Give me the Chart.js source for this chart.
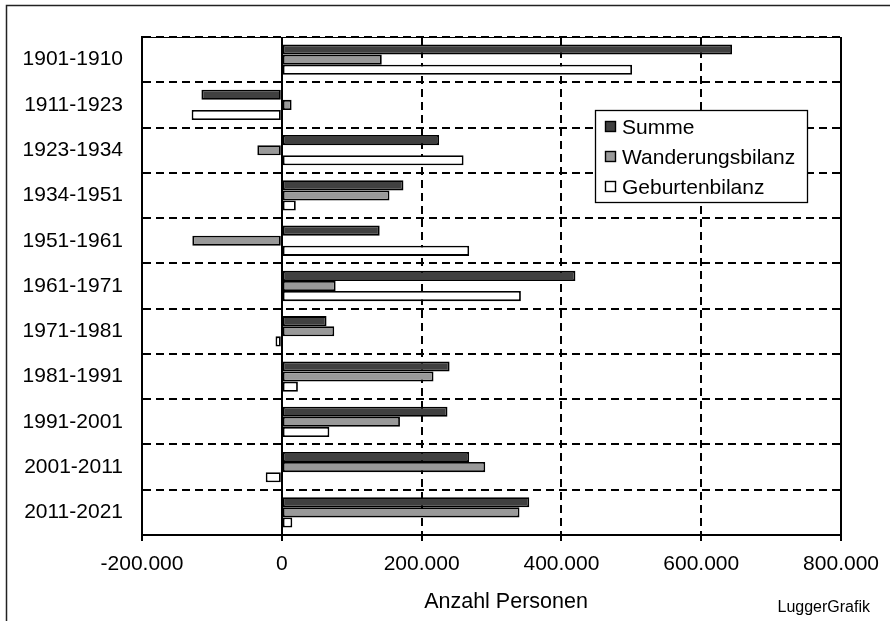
<!DOCTYPE html>
<html>
<head>
<meta charset="utf-8">
<script src="https://cdn.jsdelivr.net/npm/chart.js@4.4.1/dist/chart.umd.min.js"></script>
<style>
  html, body { margin: 0; padding: 0; background: #fff; }
  #wrap { width: 890px; height: 621px; position: relative; }
</style>
</head>
<body>
<div id="wrap"><canvas id="c" width="890" height="621"></canvas></div>
<script>
// Bevölkerungsentwicklung je Zeitraum (Personen)
const periods = ['1901-1910', '1911-1923', '1923-1934', '1934-1951', '1951-1961', '1961-1971',
                 '1971-1981', '1981-1991', '1991-2001', '2001-2011', '2011-2021'];
const summe = [644000, -115000, 225000, 174000, 140000, 420000, 64000, 240000, 237000, 268000, 354000];
const wanderungsbilanz = [143000, 14000, -35000, 154000, -128000, 77000, 75000, 217000, 169000, 291000, 340000];
const geburtenbilanz = [501000, -129000, 260000, 20000, 268000, 342000, -9000, 23000, 68000, -23000, 15000];
const xTickValues = [-200000, 0, 200000, 400000, 600000, 800000];
const seriesNames = ['Summe', 'Wanderungsbilanz', 'Geburtenbilanz'];
const seriesColors = ['#404040', '#999999', '#ffffff'];
const xAxisTitle = 'Anzahl Personen';
const creditText = 'LuggerGrafik';

const FONT = '"Liberation Sans", Arial, sans-serif';

function fmtDe(v) {
  const s = String(Math.abs(v)).replace(/\B(?=(\d{3})+(?!\d))/g, '.');
  return (v < 0 ? '-' : '') + s;
}

// Frame, zero line, legend box, axis title and credit line
const decor = {
  id: 'decor',
  beforeDraw(chart) {
    const ctx = chart.ctx;
    ctx.save();
    ctx.fillStyle = '#fff';
    ctx.fillRect(0, 0, chart.width, chart.height);
    ctx.strokeStyle = '#222';
    ctx.lineWidth = 1.5;
    ctx.strokeRect(6.5, 5.5, 1000, 1000);
    ctx.restore();
  },
  afterDatasetsDraw(chart) {
    const ctx = chart.ctx;
    const a = chart.chartArea;
    const x = chart.scales.x;
    ctx.save();
    ctx.strokeStyle = '#000';
    ctx.setLineDash([]);
    // top and right edges of the plot
    ctx.lineWidth = 1.2;
    ctx.beginPath();
    ctx.moveTo(a.left, a.top + 0.5);
    ctx.lineTo(a.right, a.top + 0.5);
    ctx.stroke();
    ctx.lineWidth = 2;
    const xr = Math.round(x.getPixelForValue(800000));
    ctx.beginPath();
    ctx.moveTo(xr, a.top);
    ctx.lineTo(xr, a.bottom);
    ctx.stroke();
    // zero line
    const x0 = Math.round(x.getPixelForValue(0));
    ctx.lineWidth = 2;
    ctx.beginPath();
    ctx.moveTo(x0, a.top);
    ctx.lineTo(x0, a.bottom);
    ctx.stroke();
    ctx.restore();
  },
  afterDraw(chart) {
    const ctx = chart.ctx;
    ctx.save();
    // legend
    const bx = 595.5, by = 110.5, bw = 212, bh = 92;
    ctx.fillStyle = '#fff';
    ctx.fillRect(bx, by, bw, bh);
    ctx.strokeStyle = '#000';
    ctx.lineWidth = 1.3;
    ctx.strokeRect(bx, by, bw, bh);
    ctx.font = '21px ' + FONT;
    ctx.textBaseline = 'middle';
    ctx.textAlign = 'left';
    chart.data.datasets.forEach((ds, i) => {
      const cy = 127 + i * 30;
      ctx.fillStyle = ds.backgroundColor;
      ctx.fillRect(605.5, cy - 5.5, 10, 10);
      ctx.lineWidth = 1.4;
      ctx.strokeStyle = '#000';
      ctx.strokeRect(605.5, cy - 5.5, 10, 10);
      ctx.fillStyle = '#000';
      ctx.fillText(ds.label, 622, cy + 1);
    });
    // x axis title
    ctx.font = '21.5px ' + FONT;
    ctx.textAlign = 'center';
    ctx.textBaseline = 'alphabetic';
    ctx.fillStyle = '#000';
    ctx.fillText(xAxisTitle, 506, 608);
    // credit
    ctx.font = '16px ' + FONT;
    ctx.textAlign = 'right';
    ctx.fillText(creditText, 870, 612);
    ctx.restore();
  }
};

const datasets = [summe, wanderungsbilanz, geburtenbilanz].map((vals, i) => ({
  label: seriesNames[i],
  data: vals,
  backgroundColor: seriesColors[i],
  borderColor: '#000',
  borderWidth: 1.8,
  borderSkipped: false,
  categoryPercentage: 0.67,
  barPercentage: 1.0
}));

new Chart(document.getElementById('c'), {
  type: 'bar',
  data: { labels: periods, datasets: datasets },
  plugins: [decor],
  options: {
    indexAxis: 'y',
    responsive: false,
    animation: false,
    devicePixelRatio: 1,
    layout: { padding: { left: 0, top: 37, right: 45, bottom: 0 } },
    plugins: { legend: { display: false }, tooltip: { enabled: false } },
    scales: {
      x: {
        type: 'linear',
        min: -200000,
        max: 800000,
        afterBuildTicks(scale) { scale.ticks = xTickValues.map(v => ({ value: v })); },
        afterFit(scale) { scale.height = 86; },
        ticks: {
          font: { family: FONT, size: 21 },
          color: '#000',
          padding: 11,
          maxRotation: 0,
          autoSkip: false,
          callback: v => fmtDe(v)
        },
        grid: {
          color: '#000',
          lineWidth: 2,
          drawTicks: true,
          tickLength: 6,
          tickColor: '#000',
          tickWidth: 2
        },
        border: { display: true, color: '#000', width: 2, dash: [8, 5] },
        title: { display: false }
      },
      y: {
        afterFit(scale) { scale.width = 142; },
        ticks: {
          font: { family: FONT, size: 21 },
          color: '#000',
          padding: 19
        },
        grid: {
          color: '#000',
          lineWidth: 2,
          drawTicks: false,
          offset: true
        },
        border: { display: true, color: '#000', width: 2, dash: [8, 5] }
      }
    }
  }
});
</script>
</body>
</html>
